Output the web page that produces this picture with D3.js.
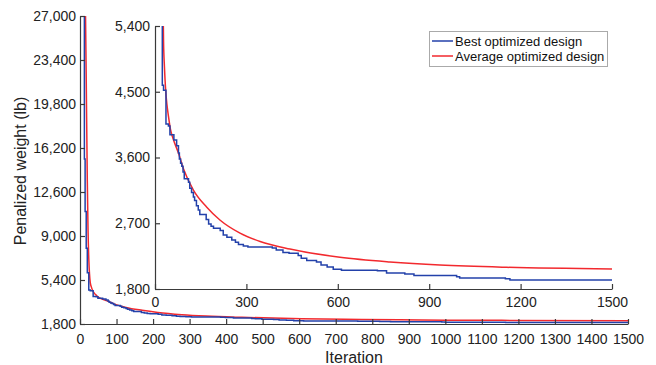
<!DOCTYPE html>
<html>
<head>
<meta charset="utf-8">
<script src="https://cdn.jsdelivr.net/npm/d3@7"></script>
<style>
  html, body { margin: 0; padding: 0; background: #fff; }
  svg { display: block; font-family: "Liberation Sans", Arial, Helvetica, sans-serif; }
  .axis path, .axis line { stroke: #3a3a3a; stroke-width: 1.2; }
  .axis text { fill: #222; font-size: 14px; }
</style>
</head>
<body>
<svg id="chart" width="656" height="365"></svg>
<script>
// Best design so far (changes only when a better design is found)
const bestIter   = [1, 12, 14, 17, 20, 24, 28, 36, 44, 49, 62, 71, 77, 80, 84, 88, 92, 96, 110, 114, 120, 126, 130, 136, 142, 147, 168, 176, 184, 192, 214, 224, 236, 252, 264, 274, 290, 305, 385, 398, 420, 440, 470, 480, 498, 530, 545, 565, 585, 612, 730, 760, 820, 850, 990, 1000, 1150, 1165, 1500];
const bestWeight = [60000, 15300, 11000, 8000, 6000, 4590, 4520, 4060, 4030, 3910, 3840, 3760, 3660, 3580, 3520, 3480, 3400, 3310, 3260, 3180, 3120, 3060, 3010, 2940, 2880, 2820, 2750, 2690, 2660, 2630, 2600, 2540, 2510, 2470, 2440, 2410, 2390, 2375, 2360, 2335, 2300, 2290, 2260, 2220, 2190, 2170, 2130, 2100, 2070, 2055, 2050, 2020, 2005, 1985, 1968, 1952, 1942, 1924, 1914];

// Average of the optimized designs over all runs
const avgIter   = [1, 8, 14, 17, 20, 22, 24, 26, 28, 31, 35, 39, 44, 51, 60, 77, 93, 126, 170, 213, 279, 345, 443, 607, 771, 935, 1154, 1500];
const avgWeight = [80000, 45000, 30000, 22000, 13500, 9500, 7200, 5900, 5200, 4840, 4520, 4330, 4170, 3980, 3850, 3660, 3450, 3155, 2920, 2745, 2565, 2450, 2347, 2234, 2170, 2128, 2097, 2074];

const seriesNames  = ["Best optimized design", "Average optimized design"];
const seriesColors = ["#2341aa", "#f2292e"];

const mainXTicks  = d3.range(0, 1501, 100);
const mainYTicks  = [1800, 5400, 9000, 12600, 16200, 19800, 23400, 27000];
const insetXTicks = [0, 300, 600, 900, 1200, 1500];
const insetYTicks = [1800, 2700, 3600, 4500, 5400];

const best = bestIter.map((x, i) => ({ x, y: bestWeight[i] }));
const avg  = avgIter.map((x, i) => ({ x, y: avgWeight[i] }));

const svg = d3.select("#chart");
const fmtComma = d3.format(",");

function panel(id, box, xDomain, yDomain, xTicks, yTicks, xPad, yPad) {
  const x = d3.scaleLinear().domain(xDomain).range([box.left, box.right]);
  const y = d3.scaleLinear().domain(yDomain).range([box.bottom, box.top]);
  const g = svg.append("g");

  g.append("clipPath").attr("id", id)
    .append("rect")
    .attr("x", box.left).attr("y", box.top)
    .attr("width", box.right - box.left).attr("height", box.bottom - box.top);

  const plot = g.append("g").attr("clip-path", `url(#${id})`);

  const stepLine = d3.line().x(d => x(d.x)).y(d => y(d.y)).curve(d3.curveStepAfter);
  const smoothLine = d3.line().x(d => x(d.x)).y(d => y(d.y)).curve(d3.curveMonotoneX);

  plot.append("path").datum(avg)
    .attr("fill", "none").attr("stroke", seriesColors[1]).attr("stroke-width", 1.5)
    .attr("d", smoothLine);
  plot.append("path").datum(best)
    .attr("fill", "none").attr("stroke", seriesColors[0]).attr("stroke-width", 1.5)
    .attr("d", stepLine);

  g.append("g").attr("class", "axis")
    .attr("transform", `translate(0,${box.bottom})`)
    .call(d3.axisBottom(x).tickValues(xTicks).tickFormat(d3.format("d"))
      .tickSizeInner(-5).tickSizeOuter(0).tickPadding(xPad));

  g.append("g").attr("class", "axis")
    .attr("transform", `translate(${box.left},0)`)
    .call(d3.axisLeft(y).tickValues(yTicks).tickFormat(fmtComma)
      .tickSizeInner(-5).tickSizeOuter(0).tickPadding(yPad));

  return g;
}

// Full run
panel("clip-main", { left: 80, right: 628, top: 16, bottom: 324 },
  [0, 1500], [1800, 27000], mainXTicks, mainYTicks, 10, 4);

// Close-up of the convergence region
panel("clip-inset", { left: 155, right: 612, top: 26, bottom: 289 },
  [0, 1500], [1800, 5400], insetXTicks, insetYTicks, 8, 5);

// Axis titles
svg.append("text")
  .attr("x", 354).attr("y", 363)
  .attr("text-anchor", "middle")
  .attr("font-size", 16).attr("fill", "#222")
  .text("Iteration");

svg.append("text")
  .attr("transform", "translate(26,171) rotate(-90)")
  .attr("text-anchor", "middle")
  .attr("font-size", 16).attr("fill", "#222")
  .text("Penalized weight (lb)");

// Legend
const legend = svg.append("g");
legend.append("rect")
  .attr("x", 429.5).attr("y", 31.5).attr("width", 178).attr("height", 35)
  .attr("fill", "#fff").attr("stroke", "#aaa").attr("stroke-width", 1);

seriesNames.forEach((name, i) => {
  const cy = 41 + i * 15;
  legend.append("line")
    .attr("x1", 432).attr("x2", 453).attr("y1", cy).attr("y2", cy)
    .attr("stroke", seriesColors[i]).attr("stroke-width", 1.5);
  legend.append("text")
    .attr("x", 455).attr("y", cy).attr("dy", "0.35em")
    .attr("font-size", 13).attr("fill", "#111")
    .text(name);
});
</script>
</body>
</html>
